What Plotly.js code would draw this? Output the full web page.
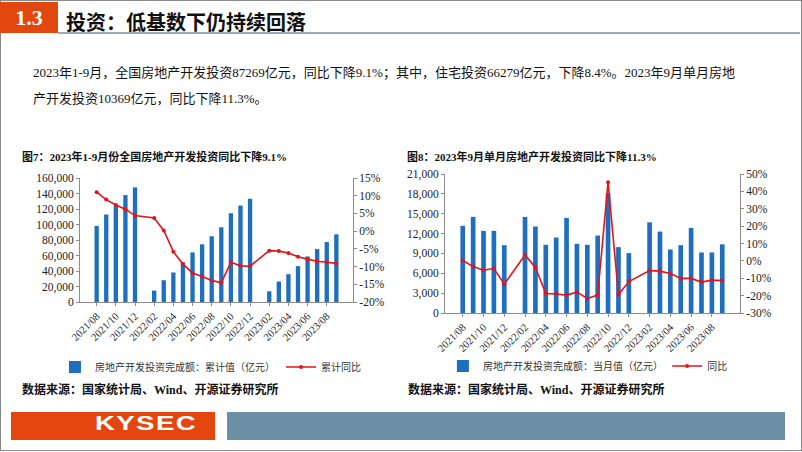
<!DOCTYPE html>
<html>
<head>
<meta charset="utf-8">
<script src="https://cdn.plot.ly/plotly-3.0.1.min.js"></script>
<style>
  body { margin: 0; width: 802px; height: 452px; position: relative; overflow: hidden; background: #fff;
         font-family: "Liberation Serif", "Noto Sans CJK SC", serif; }
  .frame { position: absolute; left: 0; top: 0; width: 800px; height: 449px; border: 1px solid #8a8a8a; }
  .badge { position: absolute; left: 0; top: 2px; width: 58px; height: 31px; background: #e2470f;
           color: #fff; font: bold 22px "Liberation Serif", serif; text-align: center; line-height: 31px; }
  .headline { position: absolute; left: 66px; top: 7px; font: bold 20px "Noto Sans CJK SC", sans-serif; color: #111; }
  .rule { position: absolute; left: 58px; top: 32px; width: 742px; height: 2px; background: #9aabb8; }
  .para { position: absolute; left: 33px; top: 60px; width: 760px; font-size: 13px; line-height: 26px; color: #111; white-space: nowrap; }
  .figtitle { position: absolute; top: 148px; font: bold 11px "Liberation Serif", "Noto Sans CJK SC", serif; color: #111; }
  .source { position: absolute; top: 380px; font: bold 12px "Liberation Serif", "Noto Sans CJK SC", serif; color: #111; }
  .chart { position: absolute; }
  .footL { position: absolute; left: 11px; top: 412px; width: 204px; height: 28px; background: #e5450f; }
  .footL span { position: absolute; left: 84px; top: 0; line-height: 28px; color: #fff; letter-spacing: 1px;
                font: bold 20px "Liberation Sans", Arial, sans-serif; transform: scaleX(1.38); transform-origin: left center; }
  .footR { position: absolute; left: 227px; top: 412px; width: 558px; height: 28px; background: #6b8fa4; }
</style>
</head>
<body>
<div class="frame"></div>
<div class="badge">1.3</div>
<div class="headline">投资：低基数下仍持续回落</div>
<div class="rule"></div>
<div class="para">2023年1-9月，全国房地产开发投资87269亿元，同比下降9.1%；其中，住宅投资66279亿元，下降8.4%。2023年9月单月房地<br>产开发投资10369亿元，同比下降11.3%。</div>

<div class="figtitle" style="left:22px">图7：2023年1-9月份全国房地产开发投资同比下降9.1%</div>
<div class="figtitle" style="left:407px">图8：2023年9月单月房地产开发投资同比下降11.3%</div>
<div id="chart1" class="chart" style="left:20px; top:165px; width:380px; height:215px"></div>
<div id="chart2" class="chart" style="left:400px; top:160px; width:390px; height:220px"></div>
<div class="source" style="left:22px">数据来源：国家统计局、Wind、开源证券研究所</div>
<div class="source" style="left:408px">数据来源：国家统计局、Wind、开源证券研究所</div>

<div class="footL"><span>KYSEC</span></div>
<div class="footR"></div>

<script>
// months 2021/08 .. 2023/09
let months = ['2021/08','2021/09','2021/10','2021/11','2021/12','2022/01','2022/02','2022/03','2022/04',
  '2022/05','2022/06','2022/07','2022/08','2022/09','2022/10','2022/11','2022/12','2023/01','2023/02',
  '2023/03','2023/04','2023/05','2023/06','2023/07','2023/08','2023/09'];
let shownMonths = ['2021/08','2021/10','2021/12','2022/02','2022/04','2022/06','2022/08','2022/10',
  '2022/12','2023/02','2023/04','2023/06','2023/08'];

// fig 7: cumulative investment (亿元) and cumulative yoy (%)
let cumInvest = [98200,112900,125000,137900,147900,null,14700,28100,38100,51000,64000,74400,84800,
  96400,114600,124500,133200,null,13800,26400,35900,46300,58800,68300,77400,87300];
let cumYoY = [11.0,8.9,7.4,6.2,4.4,null,3.7,0.2,-5.8,-9.3,-11.8,-12.8,-13.9,-14.6,-8.8,-9.8,-9.9,
  null,-5.5,-5.6,-6.2,-7.2,-7.9,-8.5,-8.8,-9.1];

// fig 8: monthly investment (亿元) and yoy (%)
let monthInvest = [13170,14520,12410,12410,10250,null,14520,13070,10300,11400,14370,10450,10300,
  11700,18100,9950,9050,null,13700,12300,9600,10250,12860,9150,9150,10370];
let monthYoY = [0.2,-3.3,-5.4,-4.4,-13.4,null,3.4,-3.8,-18.8,-19.1,-19.7,-18.0,-21.6,-19.7,45.3,
  -19.5,-11.9,null,-5.6,-5.9,-7.3,-10.1,-10.1,-12.2,-11.1,-11.3];

let cumPctTicks = [-20,-15,-10,-5,0,5,10,15];
let monthPctTicks = [-30,-20,-10,0,10,20,30,40,50];

const BLUE = '#1f6fc0';
const RED = '#e3141b';
const AXIS = '#8c8c8c';
const tickFont = { family: 'Liberation Serif, serif', size: 11.5, color: '#222' };
const legFont = { family: 'Noto Sans CJK SC, sans-serif', size: 10, color: '#333' };

function buildChart(divId, bars, line, barName, lineName, leftRange, leftDtick, pctTicks, margin, leg1, leg2) {
  let barTrace = {
    x: months, y: bars, type: 'bar', name: barName,
    marker: { color: BLUE }, legend: 'legend'
  };
  let lineTrace = {
    x: months, y: line, type: 'scatter', mode: 'lines+markers', name: lineName,
    yaxis: 'y2', connectgaps: true, legend: 'legend2',
    line: { color: RED, width: 1.6 }, marker: { color: RED, size: 4 }
  };
  let layout = {
    margin: margin,
    paper_bgcolor: 'rgba(0,0,0,0)', plot_bgcolor: 'rgba(0,0,0,0)',
    bargap: 0.55,
    xaxis: {
      type: 'category', tickvals: shownMonths, tickangle: -45, tickfont: { ...tickFont, size: 10.5 },
      showline: true, linecolor: AXIS, ticks: 'outside', ticklen: 3, tickcolor: AXIS,
      showgrid: false, fixedrange: true, automargin: false
    },
    yaxis: {
      range: leftRange, dtick: leftDtick, tickformat: ',', tickfont: tickFont,
      showline: true, linecolor: AXIS, ticks: 'outside', ticklen: 3, tickcolor: AXIS,
      showgrid: false, zeroline: false, automargin: false
    },
    yaxis2: {
      overlaying: 'y', side: 'right', range: [pctTicks[0], pctTicks[pctTicks.length - 1]],
      tickvals: pctTicks, ticktext: pctTicks.map(v => v + '%'), tickfont: tickFont,
      showline: true, linecolor: AXIS, ticks: 'outside', ticklen: 3, tickcolor: AXIS,
      showgrid: false, zeroline: false, automargin: false
    },
    legend: { orientation: 'h', xref: 'container', yref: 'container', x: leg1.x, y: leg1.y,
      yanchor: 'middle', font: legFont, bgcolor: 'rgba(0,0,0,0)' },
    legend2: { orientation: 'h', xref: 'container', yref: 'container', x: leg2.x, y: leg2.y,
      yanchor: 'middle', font: legFont, bgcolor: 'rgba(0,0,0,0)' },
    showlegend: true
  };
  Plotly.newPlot(divId, [barTrace, lineTrace], layout, { displayModeBar: false, staticPlot: true });
}

buildChart('chart1', cumInvest, cumYoY, '房地产开发投资完成额：累计值（亿元）', '累计同比',
  [0, 160000], 20000, cumPctTicks, { l: 60, r: 47, t: 13, b: 78 },
  { x: 0.092, y: 0.0605 }, { x: 0.687, y: 0.0605 });

buildChart('chart2', monthInvest, monthYoY, '房地产开发投资完成额：当月值（亿元）', '同比',
  [0, 21000], 3000, monthPctTicks, { l: 45, r: 50, t: 14, b: 67 },
  { x: 0.110, y: 0.0636 }, { x: 0.685, y: 0.0636 });
</script>
</body>
</html>
